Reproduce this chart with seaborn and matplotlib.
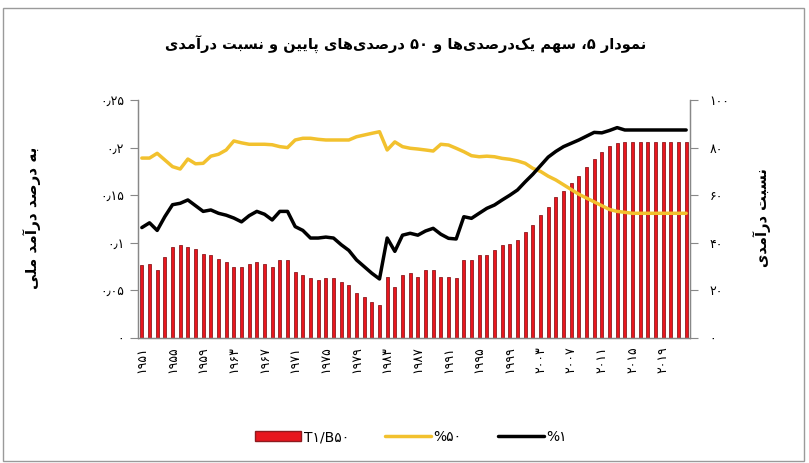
import re
import numpy as np
import pandas as pd
import matplotlib
matplotlib.use('Agg')
import matplotlib.pyplot as plt
import seaborn as sns
from matplotlib.patches import Patch, Rectangle
from matplotlib.lines import Line2D

# data
years = list(range(1951, 2023))
ratio_t1_b50 = [30.5, 31.2, 28.7, 34.0, 38.2, 38.9, 38.2, 37.5, 35.4, 34.7,
                33.3, 31.9, 29.8, 29.8, 31.2, 31.9, 31.2, 29.8, 32.6, 32.6,
                27.7, 26.4, 25.0, 24.3, 25.0, 25.0, 23.6, 22.2, 18.7, 17.3,
                15.2, 13.8, 25.6, 21.5, 26.4, 27.1, 25.6, 28.5, 28.5, 25.6,
                25.6, 25.0, 32.9, 32.9, 34.7, 34.7, 36.8, 38.9, 39.6, 41.0,
                44.5, 47.3, 51.8, 54.9, 59.1, 61.9, 65.0, 68.2, 71.7, 75.2,
                78.2, 80.8, 82.1, 82.4, 82.4, 82.4, 82.4, 82.4, 82.4, 82.4,
                82.4, 82.4]
share_b50 = [0.189, 0.189, 0.194, 0.187, 0.180, 0.1775, 0.188, 0.183, 0.1835, 0.191,
             0.193, 0.1975, 0.207, 0.205, 0.2035, 0.2035, 0.2035, 0.203, 0.201, 0.200,
             0.208, 0.2098, 0.2098, 0.2087, 0.208, 0.208, 0.208, 0.208, 0.2114, 0.2132,
             0.215, 0.2167, 0.1975, 0.206, 0.201, 0.1993, 0.1985, 0.1975, 0.1964, 0.2035,
             0.2027, 0.1993, 0.1957, 0.1915, 0.1904, 0.191, 0.1904, 0.1887, 0.1877, 0.186,
             0.1835, 0.1782, 0.175, 0.170, 0.166, 0.161, 0.156, 0.151, 0.147, 0.143,
             0.139, 0.135, 0.133, 0.132, 0.131, 0.131, 0.131, 0.131, 0.131, 0.131,
             0.131, 0.131]
share_t1 = [0.116, 0.121, 0.113, 0.1275, 0.140, 0.1415, 0.145, 0.139, 0.133, 0.1345,
            0.131, 0.129, 0.126, 0.122, 0.1285, 0.133, 0.130, 0.124, 0.133, 0.133,
            0.117, 0.113, 0.105, 0.105, 0.106, 0.105, 0.098, 0.092, 0.082, 0.075,
            0.068, 0.062, 0.105, 0.091, 0.108, 0.110, 0.108, 0.1124, 0.1152, 0.109,
            0.1047, 0.104, 0.1274, 0.1257, 0.131, 0.1362, 0.1397, 0.145, 0.150, 0.1555,
            0.164, 0.172, 0.181, 0.190, 0.196, 0.201, 0.2045, 0.208, 0.212, 0.216,
            0.2155, 0.218, 0.221, 0.2185, 0.2185, 0.2185, 0.2185, 0.2185, 0.2185, 0.2185,
            0.2185, 0.2185]
left_ticks = [0, 0.05, 0.1, 0.15, 0.2, 0.25]
left_tick_labels = ['0', '0.05', '0.1', '0.15', '0.2', '0.25']
right_ticks = [0, 20, 40, 60, 80, 100]

title = 'نمودار ۵، سهم یک\u200cدرصدی\u200cها و ۵۰ درصدی\u200cهای پایین و نسبت درآمدی'
left_label = 'به درصد درآمد ملی'
right_label = 'نسبت درآمدی'
legend_labels = ['T۱/B۵۰', '%۵۰', '%۱']

# matplotlib has no arabic shaping, so pick presentation forms by hand
# (isolated, final, initial, medial)
FORMS = {
    '\u0627': ('\uFE8D', '\uFE8E', None, None),
    '\u0622': ('\uFE81', '\uFE82', None, None),
    '\u0628': ('\uFE8F', '\uFE90', '\uFE91', '\uFE92'),
    '\u067E': ('\uFB56', '\uFB57', '\uFB58', '\uFB59'),
    '\u062A': ('\uFE95', '\uFE96', '\uFE97', '\uFE98'),
    '\u062F': ('\uFEA9', '\uFEAA', None, None),
    '\u0631': ('\uFEAD', '\uFEAE', None, None),
    '\u0633': ('\uFEB1', '\uFEB2', '\uFEB3', '\uFEB4'),
    '\u0635': ('\uFEB9', '\uFEBA', '\uFEBB', '\uFEBC'),
    '\u06A9': ('\uFB8E', '\uFB8F', '\uFB90', '\uFB91'),
    '\u0644': ('\uFEDD', '\uFEDE', '\uFEDF', '\uFEE0'),
    '\u0645': ('\uFEE1', '\uFEE2', '\uFEE3', '\uFEE4'),
    '\u0646': ('\uFEE5', '\uFEE6', '\uFEE7', '\uFEE8'),
    '\u0647': ('\uFEE9', '\uFEEA', '\uFEEB', '\uFEEC'),
    '\u0648': ('\uFEED', '\uFEEE', None, None),
    '\u06CC': ('\uFBFC', '\uFBFD', '\uFBFE', '\uFBFF'),
}


def fa(text):
    out = []
    for i, c in enumerate(text):
        if c not in FORMS:
            out.append(c)
            continue
        prev = text[i - 1] if i > 0 else ''
        nxt = text[i + 1] if i + 1 < len(text) else ''
        jp = prev in FORMS and FORMS[prev][2] is not None
        jn = FORMS[c][2] is not None and nxt in FORMS
        iso, fin, ini, med = FORMS[c]
        if jp and jn:
            out.append(med)
        elif jp:
            out.append(fin)
        elif jn:
            out.append(ini)
        else:
            out.append(iso)
    s = ''.join(out).replace('\u200c', '')[::-1]
    return re.sub(r'[0-9\u06F0-\u06F9\u066B.]+', lambda m: m.group(0)[::-1], s)


digits = str.maketrans('0123456789.', '۰۱۲۳۴۵۶۷۸۹٫')

df = pd.DataFrame({'year': years, 'ratio': ratio_t1_b50,
                   'b50': share_b50, 't1': share_t1})
df['pos'] = np.arange(len(df))

sns.set_theme(style='white')
plt.rcParams['font.family'] = ['DejaVu Sans']
plt.rcParams['text.color'] = 'black'
plt.rcParams['xtick.labelcolor'] = 'black'
plt.rcParams['ytick.labelcolor'] = 'black'

fig = plt.figure(figsize=(8.09, 4.63), dpi=100)
ax = fig.add_axes([0.1706, 0.27, 0.6823, 0.514])
ax2 = ax.twinx()

red = '#E8161E'
yellow = '#F2C12E'
sns.barplot(data=df, x='pos', y='ratio', ax=ax2, color=red, saturation=1,
            width=0.42, edgecolor='#8E1B1F', linewidth=0.6)
sns.lineplot(data=df, x='pos', y='b50', ax=ax, color=yellow, linewidth=2.5)
sns.lineplot(data=df, x='pos', y='t1', ax=ax, color='black', linewidth=2.5)

ax.set_zorder(ax2.get_zorder() + 1)
ax.patch.set_visible(False)

ax.set_xlim(-0.5, len(df) - 0.5)
ax.set_ylim(0, 0.25)
ax2.set_ylim(0, 100)

ax.set_yticks(left_ticks)
ax.set_yticklabels([t.translate(digits) for t in left_tick_labels], fontsize=9)
ax2.set_yticks(right_ticks)
ax2.set_yticklabels([str(t).translate(digits) for t in right_ticks], fontsize=9)

xt = df['pos'][::4]
ax.set_xticks(xt)
ax.set_xticklabels([str(y).translate(digits) for y in df['year'][::4]],
                   rotation=90, fontsize=9)
ax.set_xticks(np.arange(len(df) + 1) - 0.5, minor=True)
ax.tick_params(axis='x', which='major', length=0, pad=6)
ax.tick_params(axis='x', which='minor', length=4, color='#888888', width=0.8, direction='out')
ax.tick_params(axis='y', length=6, color='#888888', width=0.8, direction='out', pad=4)
ax2.tick_params(axis='y', length=6, color='#888888', width=0.8, direction='out', pad=8)
ax2.tick_params(axis='x', length=0)

for a in (ax, ax2):
    a.set_xlabel('')
    a.set_ylabel('')
    a.spines['top'].set_visible(False)
    for s in ('left', 'right', 'bottom'):
        a.spines[s].set_color('#888888')
        a.spines[s].set_linewidth(0.9)

fig.text(0.04, 0.53, fa(left_label), rotation=90, ha='center', va='center',
         fontsize=11, fontweight='bold')
fig.text(0.942, 0.53, fa(right_label), rotation=90, ha='center', va='center',
         fontsize=10.5, fontweight='bold')
fig.text(0.502, 0.903, fa(title), ha='center', va='center', fontsize=10.5, fontweight='bold')

handles = [Patch(facecolor=red, edgecolor='#8E1B1F'),
           Line2D([], [], color=yellow, lw=2.5),
           Line2D([], [], color='black', lw=2.5)]
fig.legend(handles, legend_labels, loc='center', bbox_to_anchor=(0.508, 0.056),
           ncol=3, frameon=False, fontsize=10, handlelength=3.3,
           handletextpad=0.2, columnspacing=2.6)

fig.patches.append(Rectangle((0.004, 0.004), 0.99, 0.978, transform=fig.transFigure,
                             fill=False, edgecolor='#9a9a9a', linewidth=1))

plt.savefig('out.png', dpi=100)
plt.close()
